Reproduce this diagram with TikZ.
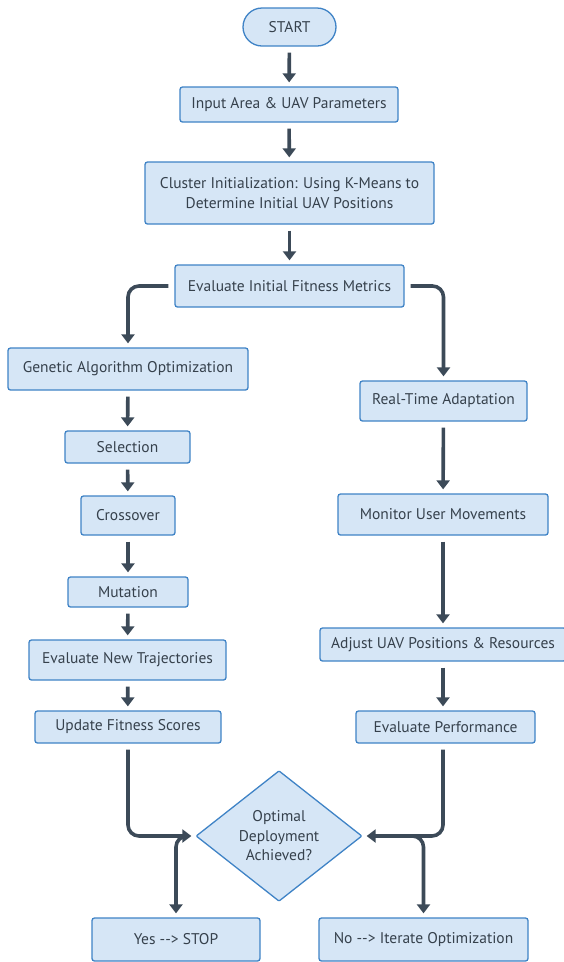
\documentclass[tikz,border=0pt]{standalone}
\usepackage{fontspec}
\setmainfont{PT Sans}
\usetikzlibrary{shapes.geometric,arrows.meta}
\definecolor{boxfill}{HTML}{D6E6F6}
\definecolor{boxline}{HTML}{3F83C6}
\definecolor{txt}{HTML}{36414C}
\definecolor{arrc}{HTML}{3C4A58}
\tikzset{
  box/.style={draw=boxline, fill=boxfill, line width=1.3pt, rounded corners=2.5pt, text=txt,
    font=\fontsize{15.5pt}{19.5pt}\selectfont, inner sep=0pt, align=center},
  arr/.style={draw=arrc, line width=3.6pt, -{Triangle[width=13pt,length=9pt]},
    rounded corners=11pt, shorten <=6pt, shorten >=4pt}
}
\begin{document}
\begin{tikzpicture}[x=1pt,y=1pt]
\useasboundingbox (0,0) rectangle (564,-962);
\node[box, rounded corners=19pt, minimum width=93pt, minimum height=38pt] (start) at (289.5,-27) {START};
\node[box, minimum width=218pt, minimum height=35pt] (input) at (289,-104.5) {Input Area \& UAV Parameters};
\node[box, minimum width=289pt, minimum height=62pt] (clus) at (289.5,-193) {Cluster Initialization: Using K-Means to\\Determine Initial UAV Positions};
\node[box, minimum width=229pt, minimum height=42pt] (evi) at (289.5,-286) {Evaluate Initial Fitness Metrics};
\node[box, minimum width=240pt, minimum height=42pt] (gen) at (128,-369) {Genetic Algorithm Optimization};
\node[box, minimum width=125pt, minimum height=32pt] (sel) at (127.5,-447) {Selection};
\node[box, minimum width=94pt, minimum height=39pt] (cro) at (128,-515.5) {Crossover};
\node[box, minimum width=120pt, minimum height=30pt] (mut) at (128,-592) {Mutation};
\node[box, minimum width=197pt, minimum height=40pt] (evn) at (127.5,-660) {Evaluate New Trajectories};
\node[box, minimum width=186pt, minimum height=32pt] (upd) at (128,-727) {Update Fitness Scores};
\node[box, minimum width=167pt, minimum height=40pt] (rta) at (443.5,-401) {Real-Time Adaptation};
\node[box, minimum width=210pt, minimum height=41pt] (mon) at (443,-514.5) {Monitor User Movements};
\node[box, minimum width=246pt, minimum height=33pt] (adj) at (443,-644.5) {Adjust UAV Positions \& Resources};
\node[box, minimum width=179pt, minimum height=32pt] (evp) at (445.5,-727) {Evaluate Performance};
\node[box, shape=diamond, rounded corners=1pt, minimum width=166pt, minimum height=124pt] (dia) at (279,-836) {Optimal\\Deployment\\Achieved?};
\node[box, minimum width=168pt, minimum height=43pt] (yes) at (176,-939.5) {Yes -{}-{}> STOP};
\node[box, minimum width=209pt, minimum height=43pt] (no) at (423.5,-939.5) {No -{}-{}> Iterate Optimization};
\coordinate (lj) at (128,-836);
\coordinate (rj) at (443,-836);
\draw[arr] (start) -- (input);
\draw[arr] (input) -- (clus);
\draw[arr] (clus) -- (evi);
\draw[arr] (evi.west) -| (gen.north);
\draw[arr] (evi.east) -| (rta.north);
\draw[arr] (gen) -- (sel);
\draw[arr] (sel) -- (cro);
\draw[arr] (cro) -- (mut);
\draw[arr] (mut) -- (evn);
\draw[arr] (evn) -- (upd);
\draw[arr] (rta) -- (mon);
\draw[arr] (mon) -- (adj);
\draw[arr] (adj.south) -- (adj.south |- evp.north);
\draw[arr] (upd.south) -- (lj) -- (dia.west);
\draw[arr] (evp.south -| rj) -- (rj) -- (dia.east);
\draw[arr, shorten <=14pt] (dia.west) -| (yes.north);
\draw[arr, shorten <=14pt] (dia.east) -| (no.north);
\end{tikzpicture}
\end{document}
